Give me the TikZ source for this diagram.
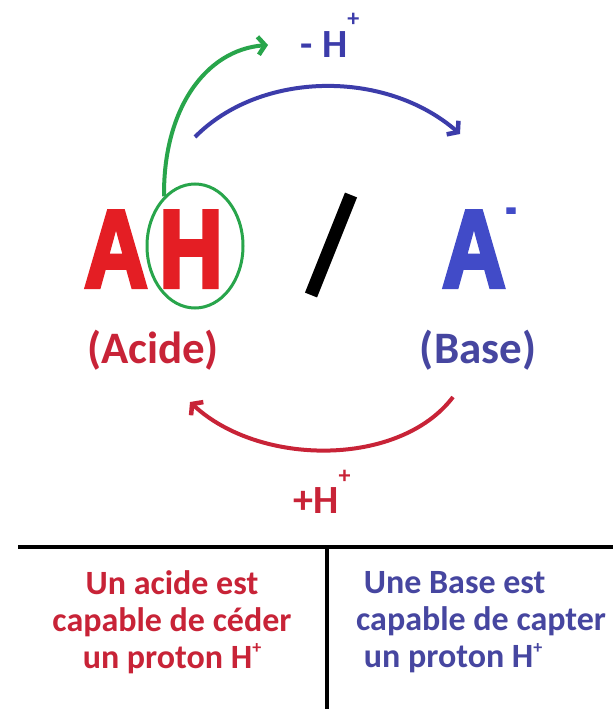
\documentclass[tikz,border=0pt]{standalone}
\usepackage{fontspec}
\setmainfont{Carlito}
\newfontfamily\bigfont{Liberation Sans}[BoldFeatures={FakeBold=4}]
\usetikzlibrary{arrows.meta,shapes.geometric}
\definecolor{redbig}{RGB}{228,30,36}
\definecolor{redtxt}{RGB}{200,35,55}
\definecolor{bluearc}{RGB}{60,60,170}
\definecolor{bluebig}{RGB}{65,75,200}
\definecolor{bluetxt}{RGB}{70,70,160}
\definecolor{greenc}{RGB}{40,165,75}
\tikzset{
  bigletter/.style={inner sep=0pt, font=\bigfont\bfseries\fontsize{110}{110}\selectfont, xscale=0.8},
  label40/.style={inner sep=0pt, font=\bfseries\fontsize{40}{40}\selectfont},
  label45/.style={inner sep=0pt, font=\bfseries\fontsize{45}{45}\selectfont},
  bodytext/.style={inner sep=0pt, font=\bfseries\fontsize{34}{37}\selectfont},
  arc/.style={line width=4pt, -{Straight Barb[length=7pt,width=18pt,line width=4.5pt]}},
}
\begin{document}
\begin{tikzpicture}[x=1pt,y=-1pt]
\useasboundingbox (0,0) rectangle (613,709);
\fill[white] (0,0) rectangle (613,709);
% big letters
\node[bigletter, text=redbig, anchor=base] (A) at (116,287) {A};
\node[bigletter, text=redbig, anchor=base] (H) at (191,287) {H};
\node[bigletter, text=bluebig, anchor=base west] (Am) at (442,287) {A\raisebox{0.6em}{\fontsize{40}{40}\selectfont -}};
% green ellipse around H
\node[ellipse, draw=greenc, line width=3pt, minimum width=96pt, minimum height=124pt, inner sep=0pt] (circ) at (195,246) {};
% slash
\coordinate (s1) at (351,195);
\coordinate (s2) at (311,295);
\draw[line width=13pt] (s1) -- (s2);
% labels
\node[label45, text=redtxt] (acide) at (153,350) {(Acide)};
\node[label45, text=bluetxt] (base) at (478,350) {(Base)};
% -H+ label
\node[label40, text=bluearc, anchor=base] (mh) at (330,57) {- H\raisebox{0.75em}{\fontsize{24}{24}\selectfont +}};
\node[label40, text=redtxt, anchor=base] (ph) at (322,513) {+H\raisebox{0.75em}{\fontsize{24}{24}\selectfont +}};
% green arrow
\coordinate (gend) at (268,45);
\draw[greenc, arc] (circ.122) .. controls (163,110) and (205,50) .. (gend);
% blue arc
\coordinate (b1) at (195,137);
\coordinate (b2) at (460,134);
\draw[bluearc, arc] (b1) .. controls (260,71) and (385,69) .. (b2);
% red arc
\coordinate (r1) at (453,397);
\coordinate (r2) at (190,402);
\draw[redtxt, arc] (r1) .. controls (400,467) and (260,467) .. (r2);
% table lines
\coordinate (hl) at (18,547);
\coordinate (hr) at (613,547);
\coordinate (vt) at (327,547);
\coordinate (vb) at (327,709);
\draw[line width=3.5pt] (hl) -- (hr);
\draw[line width=3.5pt] (vt) -- (vb);
% body text
\node[bodytext, text=redtxt, align=center] (lt) at (172,622) {Un acide est\\capable de céder\\un proton H\raisebox{0.42em}{\fontsize{18}{18}\selectfont +}};
\node[bodytext, text=bluetxt, align=left, anchor=west] (rt) at (356,622) {\ Une Base est\\capable de capter\\\ un proton H\raisebox{0.42em}{\fontsize{18}{18}\selectfont +}};
\end{tikzpicture}
\end{document}
